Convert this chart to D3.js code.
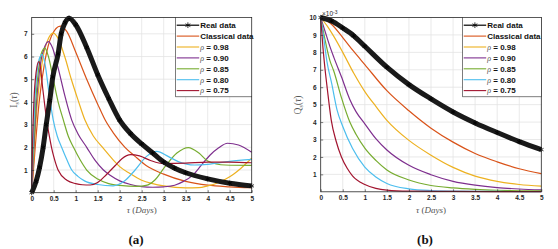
<!DOCTYPE html>
<html>
<head>
<meta charset="utf-8">
<script src="https://cdn.jsdelivr.net/npm/d3@7"></script>
<style>
  body { margin: 0; background: #fff; }
  svg { display: block; }
</style>
</head>
<body>
<svg width="558" height="249"></svg>
<script>
// legend / series names and colours (MATLAB default order)
var seriesNames = ["Real data", "Classical data", "0.98", "0.90", "0.85", "0.80", "0.75"];
var seriesColors = ["#000000", "#D95319", "#EDB120", "#7E2F8E", "#77AC30", "#4DBEEE", "#A2142F"];
var xTicks = [0, 0.5, 1, 1.5, 2, 2.5, 3, 3.5, 4, 4.5, 5];
var xTickLabels = ["0", "0.5", "1", "1.5", "2", "2.5", "3", "3.5", "4", "4.5", "5"];
var yTicksA = [1, 2, 3, 4, 5, 6, 7];
var yTicksB = [1, 2, 3, 4, 5, 6, 7, 8, 9, 10];

// panel (a): I_s(tau), pairs of [tau, value]
var aReal = [[0,0],[0.1,0.5],[0.18,1.12],[0.26,2.0],[0.33,3.0],[0.41,4.06],[0.48,5.1],[0.6,6.12],[0.67,7.0],[0.76,7.5],[0.85,7.69],
  [1.0,7.4],[1.25,6.4],[1.5,5.2],[1.75,4.15],[2.0,3.2],[2.25,2.6],[2.5,2.15],[2.75,1.75],[3.0,1.35],[3.25,1.08],[3.5,0.88],[4.0,0.61],[4.5,0.42],[5.0,0.3]];
var aClassical = [[0,0],[0.08,2.0],[0.17,4.0],[0.3,5.8],[0.45,6.9],[0.65,7.34],[0.8,7.1],[1.0,6.2],[1.25,5.0],[1.5,3.9],[1.67,3.2],[1.85,2.65],
  [2.12,2.0],[2.35,1.6],[2.6,1.2],[3.0,0.82],[3.5,0.5],[4.0,0.33],[4.5,0.26],[5.0,0.22]];
var aRho98 = [[0,0],[0.06,2.0],[0.13,4.0],[0.25,5.9],[0.38,6.8],[0.49,7.03],[0.6,6.8],[0.75,6.0],[0.9,5.0],[1.05,4.1],[1.21,3.2],[1.4,2.5],
  [1.63,1.95],[1.85,1.45],[2.0,1.15],[2.23,0.85],[2.5,0.55],[2.75,0.4],[3.0,0.3],[3.5,0.21],[3.8,0.22],[4.0,0.3],[4.25,0.45],[4.5,0.7],[4.75,1.07],[5.0,1.52]];
var aRho90 = [[0,0],[0.05,2.0],[0.11,4.0],[0.2,5.7],[0.3,6.45],[0.38,6.66],[0.47,6.4],[0.6,5.5],[0.75,4.3],[0.91,3.2],[1.05,2.6],[1.25,2.0],
  [1.45,1.4],[1.63,1.0],[1.8,0.75],[2.0,0.52],[2.25,0.36],[2.5,0.27],[2.75,0.24],[3.0,0.26],[3.25,0.33],[3.45,0.5],[3.65,0.75],[3.85,1.2],
  [4.05,1.65],[4.25,1.98],[4.45,2.18],[4.7,2.1],[5.0,1.78]];
var aRho85 = [[0,0],[0.04,2.0],[0.09,4.0],[0.16,5.5],[0.23,6.2],[0.3,6.37],[0.38,6.0],[0.5,4.9],[0.6,4.0],[0.72,3.2],[0.83,2.5],[0.95,2.0],
  [1.1,1.45],[1.25,1.0],[1.5,0.6],[1.75,0.4],[2.0,0.32],[2.4,0.28],[2.6,0.32],[2.8,0.56],[3.03,1.15],[3.3,1.75],[3.56,1.99],[3.8,1.75],
  [4.0,1.4],[4.4,1.22],[5.0,1.2]];
var aRho80 = [[0,0],[0.03,2.0],[0.07,4.0],[0.12,5.3],[0.18,5.95],[0.24,6.1],[0.3,5.7],[0.4,4.3],[0.49,3.2],[0.58,2.5],[0.68,2.0],[0.8,1.45],
  [0.91,1.0],[1.05,0.72],[1.2,0.52],[1.5,0.36],[1.85,0.3],[2.1,0.5],[2.35,1.0],[2.61,1.6],[2.84,1.82],[3.1,1.6],[3.33,1.37],[3.7,1.22],
  [4.0,1.25],[4.5,1.38],[5.0,1.47]];
var aRho75 = [[0,0],[0.02,2.2],[0.05,4.0],[0.1,5.3],[0.16,5.78],[0.2,5.5],[0.25,4.6],[0.3,3.8],[0.34,3.2],[0.4,2.5],[0.45,2.0],[0.5,1.6],
  [0.6,1.0],[0.8,0.55],[1.0,0.4],[1.15,0.35],[1.33,0.34],[1.5,0.45],[1.7,0.8],[1.9,1.2],[2.05,1.5],[2.25,1.68],[2.45,1.62],[2.7,1.42],
  [3.0,1.28],[3.5,1.3],[4.0,1.35],[4.5,1.35],[5.0,1.32]];

// panel (b): Q_s(tau) in units of 1e-3
var bReal = [[0,10],[0.25,9.8],[0.5,9.4],[0.75,8.95],[1.0,8.35],[1.5,7.15],[2.0,6.15],[2.5,5.33],[3.0,4.58],[3.5,3.95],[4.0,3.4],[4.5,2.88],[5.0,2.42]];
var bClassical = [[0,10],[0.25,9.6],[0.5,8.85],[0.75,8.05],[1.0,7.3],[1.5,5.8],[2.0,4.65],[2.5,3.65],[3.0,2.85],[3.5,2.2],[4.0,1.72],[4.5,1.32],[5.0,1.04]];
var bRho98 = [[0,10],[0.15,9.5],[0.3,8.9],[0.5,8.0],[0.75,6.8],[1.0,5.75],[1.25,4.9],[1.5,4.1],[2.0,2.95],[2.5,2.1],[3.0,1.4],[3.5,0.9],[4.0,0.6],[4.5,0.42],[5.0,0.32]];
var bRho90 = [[0,10],[0.1,9.2],[0.2,8.4],[0.3,7.7],[0.47,6.6],[0.66,5.3],[0.8,4.6],[1.0,3.9],[1.25,3.05],[1.5,2.4],[2.0,1.52],[2.5,0.98],[3.0,0.6],[3.5,0.38],[4.0,0.24],[4.5,0.16],[5.0,0.11]];
var bRho85 = [[0,10],[0.1,8.7],[0.2,7.6],[0.3,6.9],[0.47,5.4],[0.66,4.0],[0.8,3.3],[1.0,2.5],[1.25,1.8],[1.5,1.25],[2.0,0.68],[2.5,0.36],[3.0,0.22],[3.5,0.14],[4.0,0.09],[4.5,0.06],[5.0,0.05]];
var bRho80 = [[0,10],[0.07,8.8],[0.14,7.5],[0.25,6.2],[0.37,4.7],[0.5,3.75],[0.72,2.5],[1.0,1.42],[1.25,0.85],[1.5,0.48],[2.0,0.17],[2.5,0.07],[3.0,0.04],[4.0,0.02],[5.0,0.01]];
var bRho75 = [[0,10],[0.05,8.3],[0.1,7.0],[0.15,5.9],[0.24,4.1],[0.35,2.9],[0.47,2.0],[0.6,1.35],[0.72,0.92],[1.0,0.42],[1.25,0.2],[1.5,0.1],[2.0,0.04],[3.0,0.02],[5.0,0.01]];

var svg = d3.select("svg");

function drawPanel(cfg) {
  var x = d3.scaleLinear().domain([0, 5]).range([cfg.left, cfg.right]);
  var y = d3.scaleLinear().domain([0, cfg.yMax]).range([cfg.bottom, cfg.top]);
  var g = svg.append("g");

  // grid
  g.selectAll(".gx").data(xTicks.slice(1, -1)).enter().append("line")
    .attr("x1", d => x(d)).attr("x2", d => x(d)).attr("y1", cfg.top).attr("y2", cfg.bottom)
    .attr("stroke", "#e3e3e3").attr("stroke-width", 0.8);
  g.selectAll(".gy").data(cfg.yTicks.filter(d => d < cfg.yMax)).enter().append("line")
    .attr("x1", cfg.left).attr("x2", cfg.right).attr("y1", d => y(d)).attr("y2", d => y(d))
    .attr("stroke", "#e3e3e3").attr("stroke-width", 0.8);

  // lines, drawn real data last so it sits on top
  var line = d3.line().x(d => x(d[0])).y(d => y(d[1])).curve(d3.curveMonotoneX);
  var order = [1, 2, 3, 4, 5, 6, 0];
  order.forEach(function(i) {
    g.append("path")
      .attr("d", line(cfg.series[i]))
      .attr("fill", "none")
      .attr("stroke", i === 0 ? "#1a1a1a" : seriesColors[i])
      .attr("stroke-width", i === 0 ? 5 : 1.2);
  });
  g.selectAll(".mk").data(cfg.series[0]).enter().append("path")
    .attr("transform", d => `translate(${x(d[0])},${y(d[1])})`)
    .attr("d", d3.symbol(d3.symbolAsterisk, 18))
    .attr("fill", "none").attr("stroke", "#000").attr("stroke-width", 0.8);

  // axes box
  var xAxis = d3.axisBottom(x).tickValues(xTicks).tickFormat((d, i) => xTickLabels[i]).tickSize(-2.5).tickPadding(4);
  var yAxis = d3.axisLeft(y).tickValues(cfg.yTicks).tickSize(-2.5).tickPadding(4);
  var gx = g.append("g").attr("transform", `translate(0,${cfg.bottom})`).call(xAxis);
  var gy = g.append("g").attr("transform", `translate(${cfg.left},0)`).call(yAxis);
  [gx, gy].forEach(function(a) {
    a.select(".domain").remove();
    a.selectAll("line").attr("stroke", "#262626").attr("stroke-width", 0.6);
    a.selectAll("text").attr("fill", "#262626")
      .style("font-family", "Liberation Sans, Arial, sans-serif").style("font-size", "6.5px").style("font-weight", "bold");
  });
  g.append("rect")
    .attr("x", cfg.left).attr("y", cfg.top)
    .attr("width", cfg.right - cfg.left).attr("height", cfg.bottom - cfg.top)
    .attr("fill", "none").attr("stroke", "#262626").attr("stroke-width", 0.8);

  // axis labels
  var xl = g.append("text").attr("x", (cfg.left + cfg.right) / 2).attr("y", 213)
    .attr("text-anchor", "middle").attr("fill", "#555")
    .style("font-family", "Liberation Serif, Times New Roman, serif").style("font-size", "9px");
  xl.append("tspan").style("font-style", "italic").text("τ");
  xl.append("tspan").text(" (");
  xl.append("tspan").style("font-style", "italic").text("Days");
  xl.append("tspan").text(")");

  var yl = g.append("text").attr("transform", `translate(${cfg.ylabelX},${cfg.ylabelY}) rotate(-90)`)
    .attr("text-anchor", "middle").attr("fill", "#555")
    .style("font-family", "Liberation Serif, Times New Roman, serif").style("font-size", "9.5px");
  yl.append("tspan").text(cfg.ylabel);
  yl.append("tspan").attr("dy", 2).style("font-size", "6px").text("s");
  yl.append("tspan").attr("dy", -2).text("(");
  yl.append("tspan").style("font-style", "italic").text("τ");
  yl.append("tspan").text(")");

  // panel tag
  g.append("text").attr("x", cfg.tagX).attr("y", 244).attr("text-anchor", "middle")
    .attr("fill", "#111")
    .style("font-family", "Liberation Serif, Times New Roman, serif").style("font-size", "13px").style("font-weight", "bold")
    .text(cfg.tag);

  // legend
  var lx = cfg.legendX, ly = cfg.top, lw = cfg.right - cfg.legendX, rowH = 10.9;
  var leg = g.append("g");
  leg.append("rect").attr("x", lx).attr("y", ly).attr("width", lw).attr("height", 79.3)
    .attr("fill", "#fff").attr("stroke", "#262626").attr("stroke-width", 0.6);
  seriesNames.forEach(function(name, i) {
    var cy = ly + 7.7 + i * rowH;
    leg.append("line").attr("x1", lx + 1).attr("x2", lx + 23.5).attr("y1", cy).attr("y2", cy)
      .attr("stroke", seriesColors[i]).attr("stroke-width", i === 0 ? 1.2 : 1.1);
    if (i === 0) {
      leg.append("path").attr("transform", `translate(${lx + 12.2},${cy})`)
        .attr("d", d3.symbol(d3.symbolAsterisk, 22)).attr("fill", "none").attr("stroke", "#000").attr("stroke-width", 0.8);
    }
    var t = leg.append("text").attr("x", lx + 24.5).attr("y", cy + 2.8).attr("fill", "#111")
      .style("font-family", "Liberation Sans, Arial, sans-serif").style("font-size", "8px").style("font-weight", "bold");
    if (i < 2) {
      t.text(name);
    } else {
      t.append("tspan").style("font-family", "Liberation Serif, Times New Roman, serif")
        .style("font-style", "italic").style("font-weight", "normal").attr("fill", "#555").text("ρ");
      t.append("tspan").text(" = " + name);
    }
  });

  return {x: x, y: y, g: g};
}

drawPanel({
  left: 31.7, right: 251.7, top: 17.5, bottom: 192.7, yMax: 7.72, yTicks: yTicksA,
  series: [aReal, aClassical, aRho98, aRho90, aRho85, aRho80, aRho75],
  ylabel: "I", ylabelX: 17, ylabelY: 100, tag: "(a)", tagX: 136, legendX: 175.7
});

var pb = drawPanel({
  left: 320.7, right: 541.3, top: 17.5, bottom: 191.8, yMax: 10, yTicks: yTicksB,
  series: [bReal, bClassical, bRho98, bRho90, bRho85, bRho80, bRho75],
  ylabel: "Q", ylabelX: 301, ylabelY: 105, tag: "(b)", tagX: 425, legendX: 462.7
});

// exponent label for panel (b)
var ex = pb.g.append("text").attr("x", 322).attr("y", 16).attr("fill", "#262626")
  .style("font-family", "Liberation Sans, Arial, sans-serif").style("font-size", "6.5px");
ex.append("tspan").text("×10");
ex.append("tspan").attr("dy", -2.5).style("font-size", "5px").text("-3");
</script>
</body>
</html>
